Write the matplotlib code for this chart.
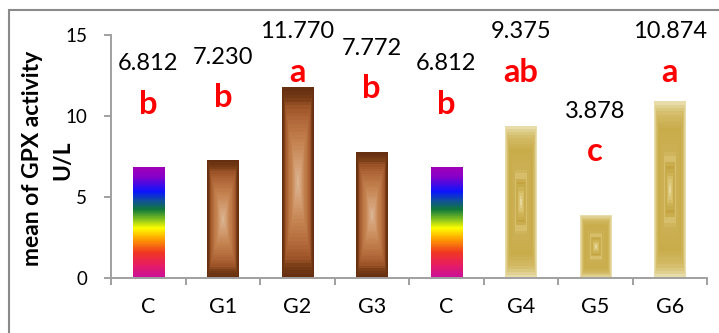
import numpy as np
import matplotlib
matplotlib.use("Agg")
import matplotlib.pyplot as plt
from matplotlib.colors import LinearSegmentedColormap
from matplotlib.patches import Rectangle

plt.rcParams["font.family"] = ["Lato", "DejaVu Sans"]

# ---- data ----
categories = ["C", "G1", "G2", "G3", "C", "G4", "G5", "G6"]
gpx_values = [6.812, 7.230, 11.770, 7.772, 6.812, 9.375, 3.878, 10.874]
value_labels = ["6.812", "7.230", "11.770", "7.772", "6.812", "9.375", "3.878", "10.874"]
letters = ["b", "b", "a", "b", "b", "ab", "c", "a"]
fill_styles = ["rainbow", "copper", "copper", "copper", "rainbow", "gold", "gold", "gold"]
y_ticks = [0, 5, 10, 15]

# ---- fills ----
rainbow = LinearSegmentedColormap.from_list("rainbow_fill", [
    (0.00, "#a000b8"), (0.08, "#8a00c8"), (0.22, "#0a14ff"), (0.30, "#1050a0"),
    (0.38, "#10783c"), (0.47, "#80c020"), (0.55, "#ffff00"), (0.65, "#ffa000"),
    (0.77, "#f03820"), (0.88, "#e81e60"), (1.00, "#c8109c")])
copper = LinearSegmentedColormap.from_list("copper_fill", [
    (0.00, "#663010"), (0.10, "#783c16"), (0.18, "#9a5226"), (0.32, "#b0683a"),
    (0.55, "#c4824f"), (0.80, "#d49e74"), (1.00, "#dcb898")])
gold = LinearSegmentedColormap.from_list("gold_fill", [
    (0.00, "#e8dcaa"), (0.05, "#ddcc88"), (0.14, "#d2ba64"), (0.30, "#c9ac4a"),
    (0.55, "#ccb054"), (0.64, "#dac474"), (0.72, "#c2a23e"), (0.82, "#d0b65a"),
    (0.92, "#e0cc82"), (1.00, "#ece0b4")])


def rect_gradient(cmap, ny=240, nx=60, levels=26):
    dx = np.abs(np.linspace(-1, 1, nx))
    dy = np.abs(np.linspace(-1, 1, ny))
    t = np.maximum(dx[None, :], dy[:, None])
    s = np.floor((1 - t) * levels) / levels
    return cmap(s)


def vertical_gradient(cmap, ny=240):
    t = np.linspace(0, 1, ny)[:, None]
    return cmap(np.repeat(t, 4, axis=1))


fig = plt.figure(figsize=(7.19, 3.33), dpi=100)
ax = fig.add_axes([111 / 719, 1 - 278 / 333, (707 - 111) / 719, (278 - 35) / 333])

x = np.arange(len(categories))
ax.set_xlim(-0.5, len(categories) - 0.5)
ax.set_ylim(0, 15)
bars = ax.bar(x, gpx_values, width=0.42, color="none", edgecolor="none")

for bar, style in zip(bars, fill_styles):
    x0, w, h = bar.get_x(), bar.get_width(), bar.get_height()
    if style == "rainbow":
        img = vertical_gradient(rainbow)
    elif style == "copper":
        img = rect_gradient(copper)
    else:
        img = rect_gradient(gold)
    ax.imshow(img, extent=[x0, x0 + w, 0, h], aspect="auto",
              interpolation="nearest", zorder=2)

# value labels and significance letters
for xi, v, lab, let in zip(x, gpx_values, value_labels, letters):
    ly = min(v + 6.4, 15.2)
    ax.text(xi, ly, lab, ha="center", va="center", fontsize=17, color="black",
            clip_on=False)
    ax.text(xi, ly - 2.5, let, ha="center", va="center", fontsize=23.5,
            fontweight="bold", color="#ff0000", clip_on=False)

ax.set_xlim(-0.5, len(categories) - 0.5)
ax.set_ylim(0, 15)
ax.set_yticks(y_ticks)
ax.set_xticks(np.arange(-0.5, len(categories), 1.0))
ax.set_xticklabels([])
ax.set_xticks(x, minor=True)
ax.set_xticklabels(categories, minor=True)

axis_col = "#a0a0a0"
for side in ("top", "right"):
    ax.spines[side].set_visible(False)
for side in ("left", "bottom"):
    ax.spines[side].set_color(axis_col)
    ax.spines[side].set_linewidth(1.4)
ax.tick_params(axis="y", which="major", direction="out", length=5, width=1.4,
               color=axis_col, labelsize=13.5, pad=12)
ax.tick_params(axis="x", which="major", direction="out", length=5, width=1.4,
               color=axis_col)
ax.tick_params(axis="x", which="minor", length=0, labelsize=15.5, pad=14)

# two-line axis title
fig.text(33 / 719, 1 - 158 / 333, "mean of GPX activity", rotation=90,
         ha="center", va="center", fontsize=16.5, fontweight="bold")
fig.text(63 / 719, 1 - 160 / 333, "U/L", rotation=90,
         ha="center", va="center", fontsize=16.5, fontweight="bold")

# chart-area border
fig.add_artist(Rectangle((9 / 719, -0.2), 1.2, 1.2 - 10 / 333,
                         transform=fig.transFigure, fill=False,
                         edgecolor="#8a8a8a", linewidth=1.5, clip_on=False))

fig.savefig("out.png", dpi=100)
